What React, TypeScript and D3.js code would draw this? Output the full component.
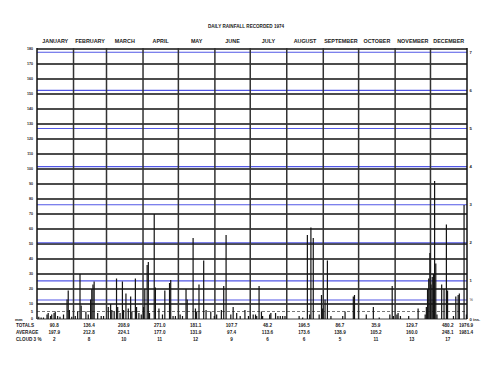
import React, { useEffect, useRef } from 'react';
import * as d3 from 'd3';

// month names across the top
const months = [
  'JANUARY', 'FEBRUARY', 'MARCH', 'APRIL', 'MAY', 'JUNE',
  'JULY', 'AUGUST', 'SEPTEMBER', 'OCTOBER', 'NOVEMBER', 'DECEMBER'
];

// daily rainfall in mm, [day of month, mm], rain days only
const jan: [number, number][] = [[2, 1.5], [4, 1], [6, 1], [9, 3], [10, 4], [12, 2], [13, 3], [15, 4], [16, 5], [18, 2], [20, 1.5], [23, 3], [26, 13], [27, 19], [28, 6], [30, 1.5]];
const feb: [number, number][] = [[2, 2], [4, 5], [6, 30], [7, 9], [11, 5], [13, 3], [15, 13], [16, 20], [17, 23], [18, 25], [21, 4], [24, 2], [26, 2]];
const mar: [number, number][] = [[2, 8], [4, 10], [5, 6], [7, 5], [9, 27], [10, 8], [12, 4], [14, 25], [15, 6], [17, 17], [19, 7], [21, 15], [22, 5], [25, 27], [26, 8], [28, 4], [30, 3]];
const apr: [number, number][] = [[1, 8], [2, 20], [4, 36], [5, 38], [6, 4], [10, 70], [11, 21], [14, 7], [17, 3], [19, 19], [23, 24], [24, 26], [26, 2], [28, 2]];
const may: [number, number][] = [[2, 3], [4, 2], [7, 20], [8, 13], [13, 54], [15, 7], [16, 5], [18, 23], [22, 39], [24, 6], [28, 5], [31, 2]];
const jun: [number, number][] = [[2, 3], [6, 6], [8, 22], [10, 56], [14, 3], [16, 8], [19, 4], [22, 2], [26, 6], [29, 2]];
const jul: [number, number][] = [[3, 3], [5, 3], [6, 2], [8, 22], [10, 5], [11, 2], [17, 3], [18, 4], [22, 4], [24, 2], [26, 2], [28, 2], [30, 2]];
const aug: [number, number][] = [[11, 2], [14, 1], [18, 56], [20, 3], [21, 61], [23, 54], [28, 3], [30, 16], [31, 7]];
const sep: [number, number][] = [[2, 13], [4, 39], [7, 2], [17, 2], [19, 5], [26, 15], [27, 16]];
const oct: [number, number][] = [[7, 3], [13, 8], [18, 1], [27, 3], [29, 22], [30, 2]];
const nov: [number, number][] = [[2, 3], [3, 4], [5, 2], [12, 2], [20, 7], [26, 3], [27, 8], [28, 20], [29, 27], [30, 44]];
const dec: [number, number][] = [[1, 23], [2, 28], [3, 30], [4, 92], [5, 37], [6, 3], [10, 23], [12, 20], [14, 63], [15, 19], [20, 2], [22, 15], [24, 16], [25, 17], [29, 76], [31, 3]];
const monthlyRain = [jan, feb, mar, apr, may, jun, jul, aug, sep, oct, nov, dec];

// table under the chart
const totals = ['90.8', '136.4', '208.9', '271.0', '181.1', '107.7', '48.2', '196.5', '86.7', '35.9', '129.7', '480.2'];
const averages = ['197.9', '212.8', '224.1', '177.0', '131.9', '97.4', '113.6', '173.6', '138.9', '105.2', '160.0', '248.1'];
const cloud = ['2', '8', '10', '11', '12', '9', '6', '6', '5', '11', '13', '17'];
const yearTotal = '1976.9';
const yearAverage = '1981.4';

// axes
const mmTicks = [180, 170, 160, 150, 140, 130, 120, 110, 100, 90, 80, 70, 60, 50, 40, 30, 20, 10, 5, 0];
const inchTicks = [7, 6, 5, 4, 3, 2, 1, 0.5, 0];
const inchLabels = ['7', '6', '5', '4', '3', '2', '1', '½', '0 ins.'];

const RainfallChart = () => {
  const ref = useRef<SVGSVGElement>(null);

  useEffect(() => {
    const svg = d3.select(ref.current);
    svg.selectAll('*').remove();

    const left = 37, right = 467, top = 49, bottom = 319;
    const font = "'Liberation Sans', Arial, sans-serif";

    const start = new Date(1974, 0, 1);
    const end = new Date(1975, 0, 1);
    const x = d3.scaleTime().domain([start, end]).range([left, right]);
    const y = d3.scaleLinear().domain([0, 180]).range([bottom, top]);
    const dayW = x(new Date(1974, 0, 2)) - x(start);

    svg.append('rect').attr('width', 500).attr('height', 375).attr('fill', '#fff');

    // Title
    svg.append('text')
      .attr('x', 246).attr('y', 27.5)
      .attr('text-anchor', 'middle')
      .attr('font-family', font).attr('font-weight', 'bold')
      .attr('font-size', 4.6)
      .attr('fill', '#222')
      .text('DAILY RAINFALL RECORDED 1974');

    // month boundaries
    const monthStarts = d3.timeMonths(start, new Date(1975, 0, 2));
    const mids = months.map((m, i) => (x(monthStarts[i]) + x(monthStarts[i + 1])) / 2);

    svg.selectAll('.month')
      .data(months)
      .enter()
      .append('text')
      .attr('x', (d, i) => mids[i])
      .attr('y', 43)
      .attr('text-anchor', 'middle')
      .attr('font-family', font).attr('font-weight', 'bold')
      .attr('font-size', 5.4)
      .attr('fill', '#222')
      .text(d => d);

    // mm grid lines
    svg.selectAll('.hline')
      .data(mmTicks.filter(d => d >= 10))
      .enter()
      .append('line')
      .attr('x1', left).attr('x2', right)
      .attr('y1', d => y(d)).attr('y2', d => y(d))
      .attr('stroke', '#111')
      .attr('stroke-width', 1.7);

    // 5 mm dashed line
    svg.append('line')
      .attr('x1', left).attr('x2', right)
      .attr('y1', y(5)).attr('y2', y(5))
      .attr('stroke', '#555')
      .attr('stroke-width', 0.8)
      .attr('stroke-dasharray', '3,2');

    // inch lines in blue
    svg.selectAll('.iline')
      .data(inchTicks.filter(d => d > 0))
      .enter()
      .append('line')
      .attr('x1', left).attr('x2', right)
      .attr('y1', d => y(d * 25.4)).attr('y2', d => y(d * 25.4))
      .attr('stroke', '#5257e6')
      .attr('stroke-width', 1.1);

    // month lines
    svg.selectAll('.vline')
      .data(monthStarts)
      .enter()
      .append('line')
      .attr('x1', d => x(d)).attr('x2', d => x(d))
      .attr('y1', top - 1).attr('y2', bottom)
      .attr('stroke', (d, i) => (i === 0 || i === 12 ? '#111' : '#333'))
      .attr('stroke-width', 1.5);

    // baseline
    svg.append('line')
      .attr('x1', left).attr('x2', right)
      .attr('y1', y(0)).attr('y2', y(0))
      .attr('stroke', '#111')
      .attr('stroke-width', 0.8);

    // daily bars
    const daily = monthlyRain.flatMap((list, m) =>
      list.map(([day, mm]) => ({ date: new Date(1974, m, day), mm }))
    );

    svg.selectAll('.bar')
      .data(daily)
      .enter()
      .append('rect')
      .attr('x', d => x(d.date) + dayW / 2 - 0.6)
      .attr('y', d => y(d.mm))
      .attr('width', 1.2)
      .attr('height', d => y(0) - y(d.mm))
      .attr('fill', '#141414');

    // left axis, mm
    svg.selectAll('.mmlabel')
      .data(mmTicks)
      .enter()
      .append('text')
      .attr('x', 33)
      .attr('y', d => y(d) + 1.3)
      .attr('text-anchor', 'end')
      .attr('font-family', font).attr('font-weight', 'bold')
      .attr('font-size', 3.6)
      .attr('fill', '#222')
      .text(d => d);

    svg.append('text')
      .attr('x', 15).attr('y', y(0) + 1.6)
      .attr('font-family', font).attr('font-weight', 'bold')
      .attr('font-size', 4.2)
      .attr('fill', '#222')
      .text('mm');

    // right axis, inches
    svg.selectAll('.inlabel')
      .data(inchTicks)
      .enter()
      .append('text')
      .attr('x', 469.5)
      .attr('y', d => y(d * 25.4) + 1.5)
      .attr('font-family', font).attr('font-weight', 'bold')
      .attr('font-size', 4.2)
      .attr('fill', '#222')
      .text((d, i) => inchLabels[i]);

    // table rows
    const rows = [
      { label: 'TOTALS', values: totals, year: yearTotal, y: 327 },
      { label: 'AVERAGE', values: averages, year: yearAverage, y: 334 },
      { label: 'CLOUD 3 %', values: cloud, year: '', y: 340.5 }
    ];

    rows.forEach(row => {
      const g = svg.append('g')
        .attr('font-family', font).attr('font-weight', 'bold')
        .attr('font-size', 4.6)
        .attr('fill', '#222');
      g.append('text').attr('x', 16).attr('y', row.y).text(row.label);
      g.selectAll('.val')
        .data(row.values)
        .enter()
        .append('text')
        .attr('x', (d, i) => mids[i] - 1)
        .attr('y', row.y)
        .attr('text-anchor', 'middle')
        .text(d => d);
      if (row.year) {
        g.append('text').attr('x', 466).attr('y', row.y)
          .attr('text-anchor', 'middle').text(row.year);
      }
    });
  }, []);

  return (
    <svg ref={ref} width={500} height={375}
      style={{ position: 'absolute', left: 0, top: 0, background: '#fff' }} />
  );
};

export default function App() {
  return <RainfallChart />;
}
